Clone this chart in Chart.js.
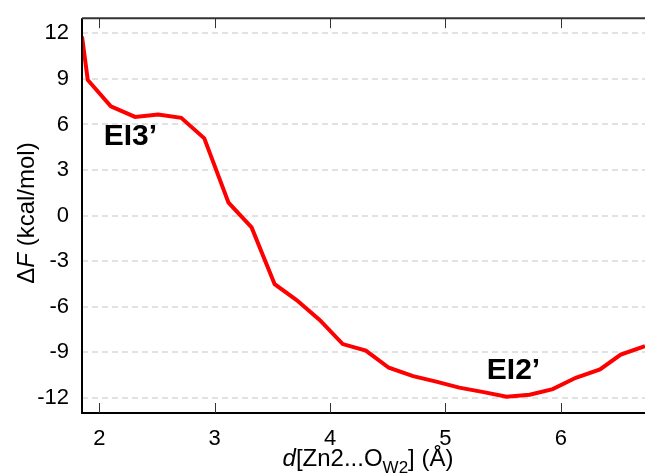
<!DOCTYPE html>
<html>
<head>
<meta charset="utf-8">
<script src="https://cdn.jsdelivr.net/npm/chart.js@4.4.0/dist/chart.umd.min.js"></script>
<style>
  html, body { margin: 0; padding: 0; background: #fff; }
  #wrap { width: 645px; height: 476px; }
</style>
</head>
<body>
<div id="wrap"><canvas id="pmf" width="645" height="476"></canvas></div>
<script>
// Zn2...OW2 distance (Å) and free energy along it (kcal/mol)
const distances = [1.85, 1.90, 2.10, 2.31, 2.51, 2.71, 2.91, 3.12, 3.32, 3.52, 3.71, 3.91, 4.11,
                   4.31, 4.51, 4.72, 4.92, 5.12, 5.32, 5.53, 5.73, 5.93, 6.13, 6.34, 6.52, 6.73];
const energies = [11.8, 8.93, 7.19, 6.50, 6.65, 6.44, 5.09, 0.85, -0.78, -4.52, -5.56, -6.87, -8.46,
                  -8.89, -10.02, -10.57, -10.93, -11.33, -11.61, -11.93, -11.80, -11.43, -10.68, -10.13, -9.15, -8.6];

const xTicks = [2, 3, 4, 5, 6];
const yTicks = [-12, -9, -6, -3, 0, 3, 6, 9, 12];

// state labels, anchored in data space
const stateNames = ['EI3\u2019', 'EI2\u2019'];
const stateX = [2.27, 5.59];
const stateY = [4.63, -10.76];

const FONT = '"Liberation Sans", Arial, Helvetica, sans-serif';

// dashed horizontal grid behind the curve
const dashedGrid = {
    id: 'dashedGrid',
    beforeDatasetsDraw(chart) {
        const { ctx, chartArea: a, scales: { y } } = chart;
        ctx.save();
        ctx.strokeStyle = '#d9d9d9';
        ctx.lineWidth = 1.5;
        ctx.setLineDash([6, 4]);
        yTicks.forEach(v => {
            const py = Math.round(y.getPixelForValue(v));
            ctx.beginPath();
            ctx.moveTo(a.left, py);
            ctx.lineTo(a.right, py);
            ctx.stroke();
        });
        ctx.restore();
    }
};

// draws the axis frame, inward ticks, axis titles and state labels
const decorations = {
    id: 'decorations',
    afterDraw(chart) {
        const { ctx, chartArea: a, scales: { x, y } } = chart;
        ctx.save();

        ctx.strokeStyle = '#000';
        ctx.lineWidth = 2;
        ctx.beginPath();
        ctx.moveTo(a.left, a.top);
        ctx.lineTo(a.left, a.bottom);
        ctx.lineTo(a.right, a.bottom);
        ctx.stroke();

        ctx.strokeStyle = '#333';
        ctx.beginPath();
        ctx.moveTo(a.left, a.top);
        ctx.lineTo(a.right, a.top);
        ctx.stroke();

        ctx.lineWidth = 1;
        xTicks.forEach(v => {
            const px = Math.round(x.getPixelForValue(v)) + 0.5;
            ctx.beginPath();
            ctx.moveTo(px, a.bottom);
            ctx.lineTo(px, a.bottom - 10);
            ctx.moveTo(px, a.top);
            ctx.lineTo(px, a.top + 10);
            ctx.stroke();
        });

        ctx.fillStyle = '#000';
        ctx.textBaseline = 'alphabetic';

        // y title: ΔF (kcal/mol)
        const yParts = [
            ['\u0394', '24px ' + FONT],
            ['F', 'italic 24px ' + FONT],
            [' (kcal/mol)', '24px ' + FONT]
        ];
        ctx.save();
        ctx.translate(34, 213);
        ctx.rotate(-Math.PI / 2);
        let total = 0;
        yParts.forEach(p => { ctx.font = p[1]; total += ctx.measureText(p[0]).width; });
        let cx = -total / 2;
        yParts.forEach(p => {
            ctx.font = p[1];
            ctx.fillText(p[0], cx, 0);
            cx += ctx.measureText(p[0]).width;
        });
        ctx.restore();

        // x title: d[Zn2...OW2] (Å)
        const xParts = [
            ['d', 'italic 24px ' + FONT, 0],
            ['[Zn2...O', '24px ' + FONT, 0],
            ['W2', '17px ' + FONT, 7],
            ['] (\u00c5)', '24px ' + FONT, 0]
        ];
        total = 0;
        xParts.forEach(p => { ctx.font = p[1]; total += ctx.measureText(p[0]).width; });
        cx = 368 - total / 2;
        xParts.forEach(p => {
            ctx.font = p[1];
            ctx.fillText(p[0], cx, 466 + p[2]);
            cx += ctx.measureText(p[0]).width;
        });

        // state labels
        ctx.font = 'bold 30px ' + FONT;
        ctx.textAlign = 'center';
        stateNames.forEach((name, i) => {
            ctx.fillText(name, x.getPixelForValue(stateX[i]), y.getPixelForValue(stateY[i]));
        });

        ctx.restore();
    }
};

new Chart(document.getElementById('pmf'), {
    type: 'line',
    data: {
        datasets: [{
            data: distances.map((d, i) => ({ x: d, y: energies[i] })),
            borderColor: '#ff0000',
            borderWidth: 4,
            pointRadius: 0,
            tension: 0,
            fill: false
        }]
    },
    options: {
        responsive: false,
        animation: false,
        events: [],
        layout: { padding: { top: 14, right: 0, bottom: 0, left: 0 } },
        plugins: {
            legend: { display: false },
            tooltip: { enabled: false }
        },
        scales: {
            x: {
                type: 'linear',
                min: 1.85,
                max: 6.73,
                afterBuildTicks: s => { s.ticks = xTicks.map(v => ({ value: v })); },
                afterFit: s => { s.height = 63; },
                grid: { display: false },
                border: { display: false },
                ticks: {
                    padding: 5,
                    color: '#000',
                    maxRotation: 0,
                    font: { family: FONT, size: 22 }
                }
            },
            y: {
                type: 'linear',
                min: -13,
                max: 13,
                afterBuildTicks: s => { s.ticks = yTicks.map(v => ({ value: v })); },
                afterFit: s => { s.width = 82; },
                grid: { display: false },
                border: { display: false },
                ticks: {
                    padding: 5,
                    color: '#000',
                    font: { family: FONT, size: 22 }
                }
            }
        }
    },
    plugins: [dashedGrid, decorations]
});
</script>
</body>
</html>
